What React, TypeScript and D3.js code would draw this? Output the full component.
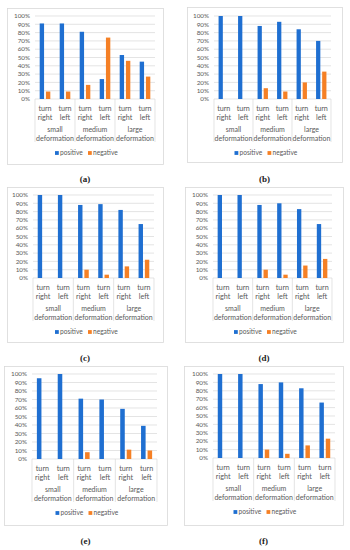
import * as React from "react";
import * as d3 from "d3";

// category axis
const subLabels = [["turn", "right"], ["turn", "left"]];
const groups = ["small", "medium", "large"];
const items = ["sr", "sl", "mr", "ml", "lr", "ll"];
const seriesNames = ["positive", "negative"];
const ticks = [0, 10, 20, 30, 40, 50, 60, 70, 80, 90, 100];

// values (percent)
const positiveA = [91, 91, 81, 24, 53, 45];
const negativeA = [9, 9, 17, 74, 46, 27];
const positiveB = [100, 100, 88, 93, 84, 70];
const negativeB = [0, 0, 13, 9, 20, 33];
const positiveC = [100, 100, 88, 89, 82, 65];
const negativeC = [0, 0, 10, 4, 14, 22];
const positiveD = [100, 100, 88, 90, 83, 65];
const negativeD = [0, 0, 10, 4, 15, 23];
const positiveE = [95, 100, 71, 70, 59, 39];
const negativeE = [0, 0, 8, 0, 11, 10];
const positiveF = [100, 100, 88, 90, 83, 66];
const negativeF = [0, 0, 10, 5, 15, 23];

const BLUE = "#1f6fd1";
const ORANGE = "#f58025";
const GRID = "#d9d9d9";
const TXT = "#595959";
const FONT = "Lato, 'Open Sans', sans-serif";

const panels = [
  { label: "(a)", pos: positiveA, neg: negativeA, frame: [7, 8, 163, 164], plot: [35, 155, 16, 99], cap: 179 },
  { label: "(b)", pos: positiveB, neg: negativeB, frame: [187, 7, 342, 162], plot: [214, 331, 16, 99], cap: 179 },
  { label: "(c)", pos: positiveC, neg: negativeC, frame: [7, 187, 163, 342], plot: [33, 154, 195, 278], cap: 358 },
  { label: "(d)", pos: positiveD, neg: negativeD, frame: [185, 187, 343, 342], plot: [213, 332, 195, 278], cap: 358 },
  { label: "(e)", pos: positiveE, neg: negativeE, frame: [4, 366, 167, 525], plot: [32, 157, 374, 459], cap: 541 },
  { label: "(f)", pos: positiveF, neg: negativeF, frame: [184, 366, 343, 525], plot: [213, 335, 374, 458], cap: 541 },
];

function Panel({ p }) {
  const [fx0, fy0, fx1, fy1] = p.frame;
  const [left, right, top, bottom] = p.plot;
  const x = d3.scaleBand().domain(items).range([left, right]);
  const g = d3.scaleBand().domain(groups).range([left, right]);
  const sub = d3.scaleBand().domain(seriesNames).range([0, x.bandwidth()]).paddingInner(0.3).paddingOuter(0.75);
  const y = d3.scaleLinear().domain([0, 100]).range([bottom, top]);
  const values = { positive: p.pos, negative: p.neg };
  const colors = { positive: BLUE, negative: ORANGE };
  const cx = (fx0 + fx1) / 2;
  return (
    <g>
      <rect x={fx0 + 0.5} y={fy0 + 0.5} width={fx1 - fx0} height={fy1 - fy0} fill="#fff" stroke={GRID} strokeWidth={0.8} />
      {ticks.map((t) => (
        <g key={t}>
          <line x1={left} x2={right} y1={y(t)} y2={y(t)} stroke={GRID} strokeWidth={0.7} />
          <text x={left - 5} y={y(t)} dy="0.35em" textAnchor="end" fontSize={6.3} fill={TXT} fontFamily={FONT}>
            {t + "%"}
          </text>
        </g>
      ))}
      {seriesNames.map((s) =>
        items.map((it, i) => {
          const v = values[s][i];
          if (!v) return null;
          return (
            <rect key={s + it} x={x(it) + sub(s)} width={sub.bandwidth()} y={y(v)} height={y(0) - y(v)} fill={colors[s]} />
          );
        })
      )}
      {[...groups.map((gr) => g(gr)), right].map((gx, i) => (
        <line key={i} x1={gx} x2={gx} y1={bottom} y2={bottom + 43} stroke={GRID} strokeWidth={0.7} />
      ))}
      {items.map((it, i) => (
        <text key={it} textAnchor="middle" fontSize={7.2} fill={TXT} fontFamily={FONT}>
          <tspan x={x(it) + x.bandwidth() / 2} y={bottom + 9} dy="0.35em">{subLabels[i % 2][0]}</tspan>
          <tspan x={x(it) + x.bandwidth() / 2} y={bottom + 18} dy="0.35em">{subLabels[i % 2][1]}</tspan>
        </text>
      ))}
      {groups.map((gr) => (
        <text key={gr} textAnchor="middle" fontSize={7} fill={TXT} fontFamily={FONT}>
          <tspan x={g(gr) + g.bandwidth() / 2} y={bottom + 31} dy="0.35em">{gr}</tspan>
          <tspan x={g(gr) + g.bandwidth() / 2} y={bottom + 39.5} dy="0.35em">deformation</tspan>
        </text>
      ))}
      <g transform={`translate(${cx - 30},${bottom + 54})`}>
        <rect x={0} y={-1.9} width={3.8} height={3.8} fill={BLUE} />
        <text x={5} dy="0.35em" fontSize={6.6} fill={TXT} fontFamily={FONT}>positive</text>
        <rect x={33} y={-1.9} width={3.8} height={3.8} fill={ORANGE} />
        <text x={38} dy="0.35em" fontSize={6.6} fill={TXT} fontFamily={FONT}>negative</text>
      </g>
      <text x={cx} y={p.cap} dy="0.35em" textAnchor="middle" fontSize={9} fontWeight="bold" fill="#222" fontFamily="'Liberation Serif', serif">
        {p.label}
      </text>
    </g>
  );
}

export default function App() {
  return (
    <div style={{ position: "absolute", left: 0, top: 0 }}>
      <svg width={350} height={550} style={{ display: "block", background: "#fff" }}>
        {panels.map((p) => (
          <Panel key={p.label} p={p} />
        ))}
      </svg>
    </div>
  );
}
